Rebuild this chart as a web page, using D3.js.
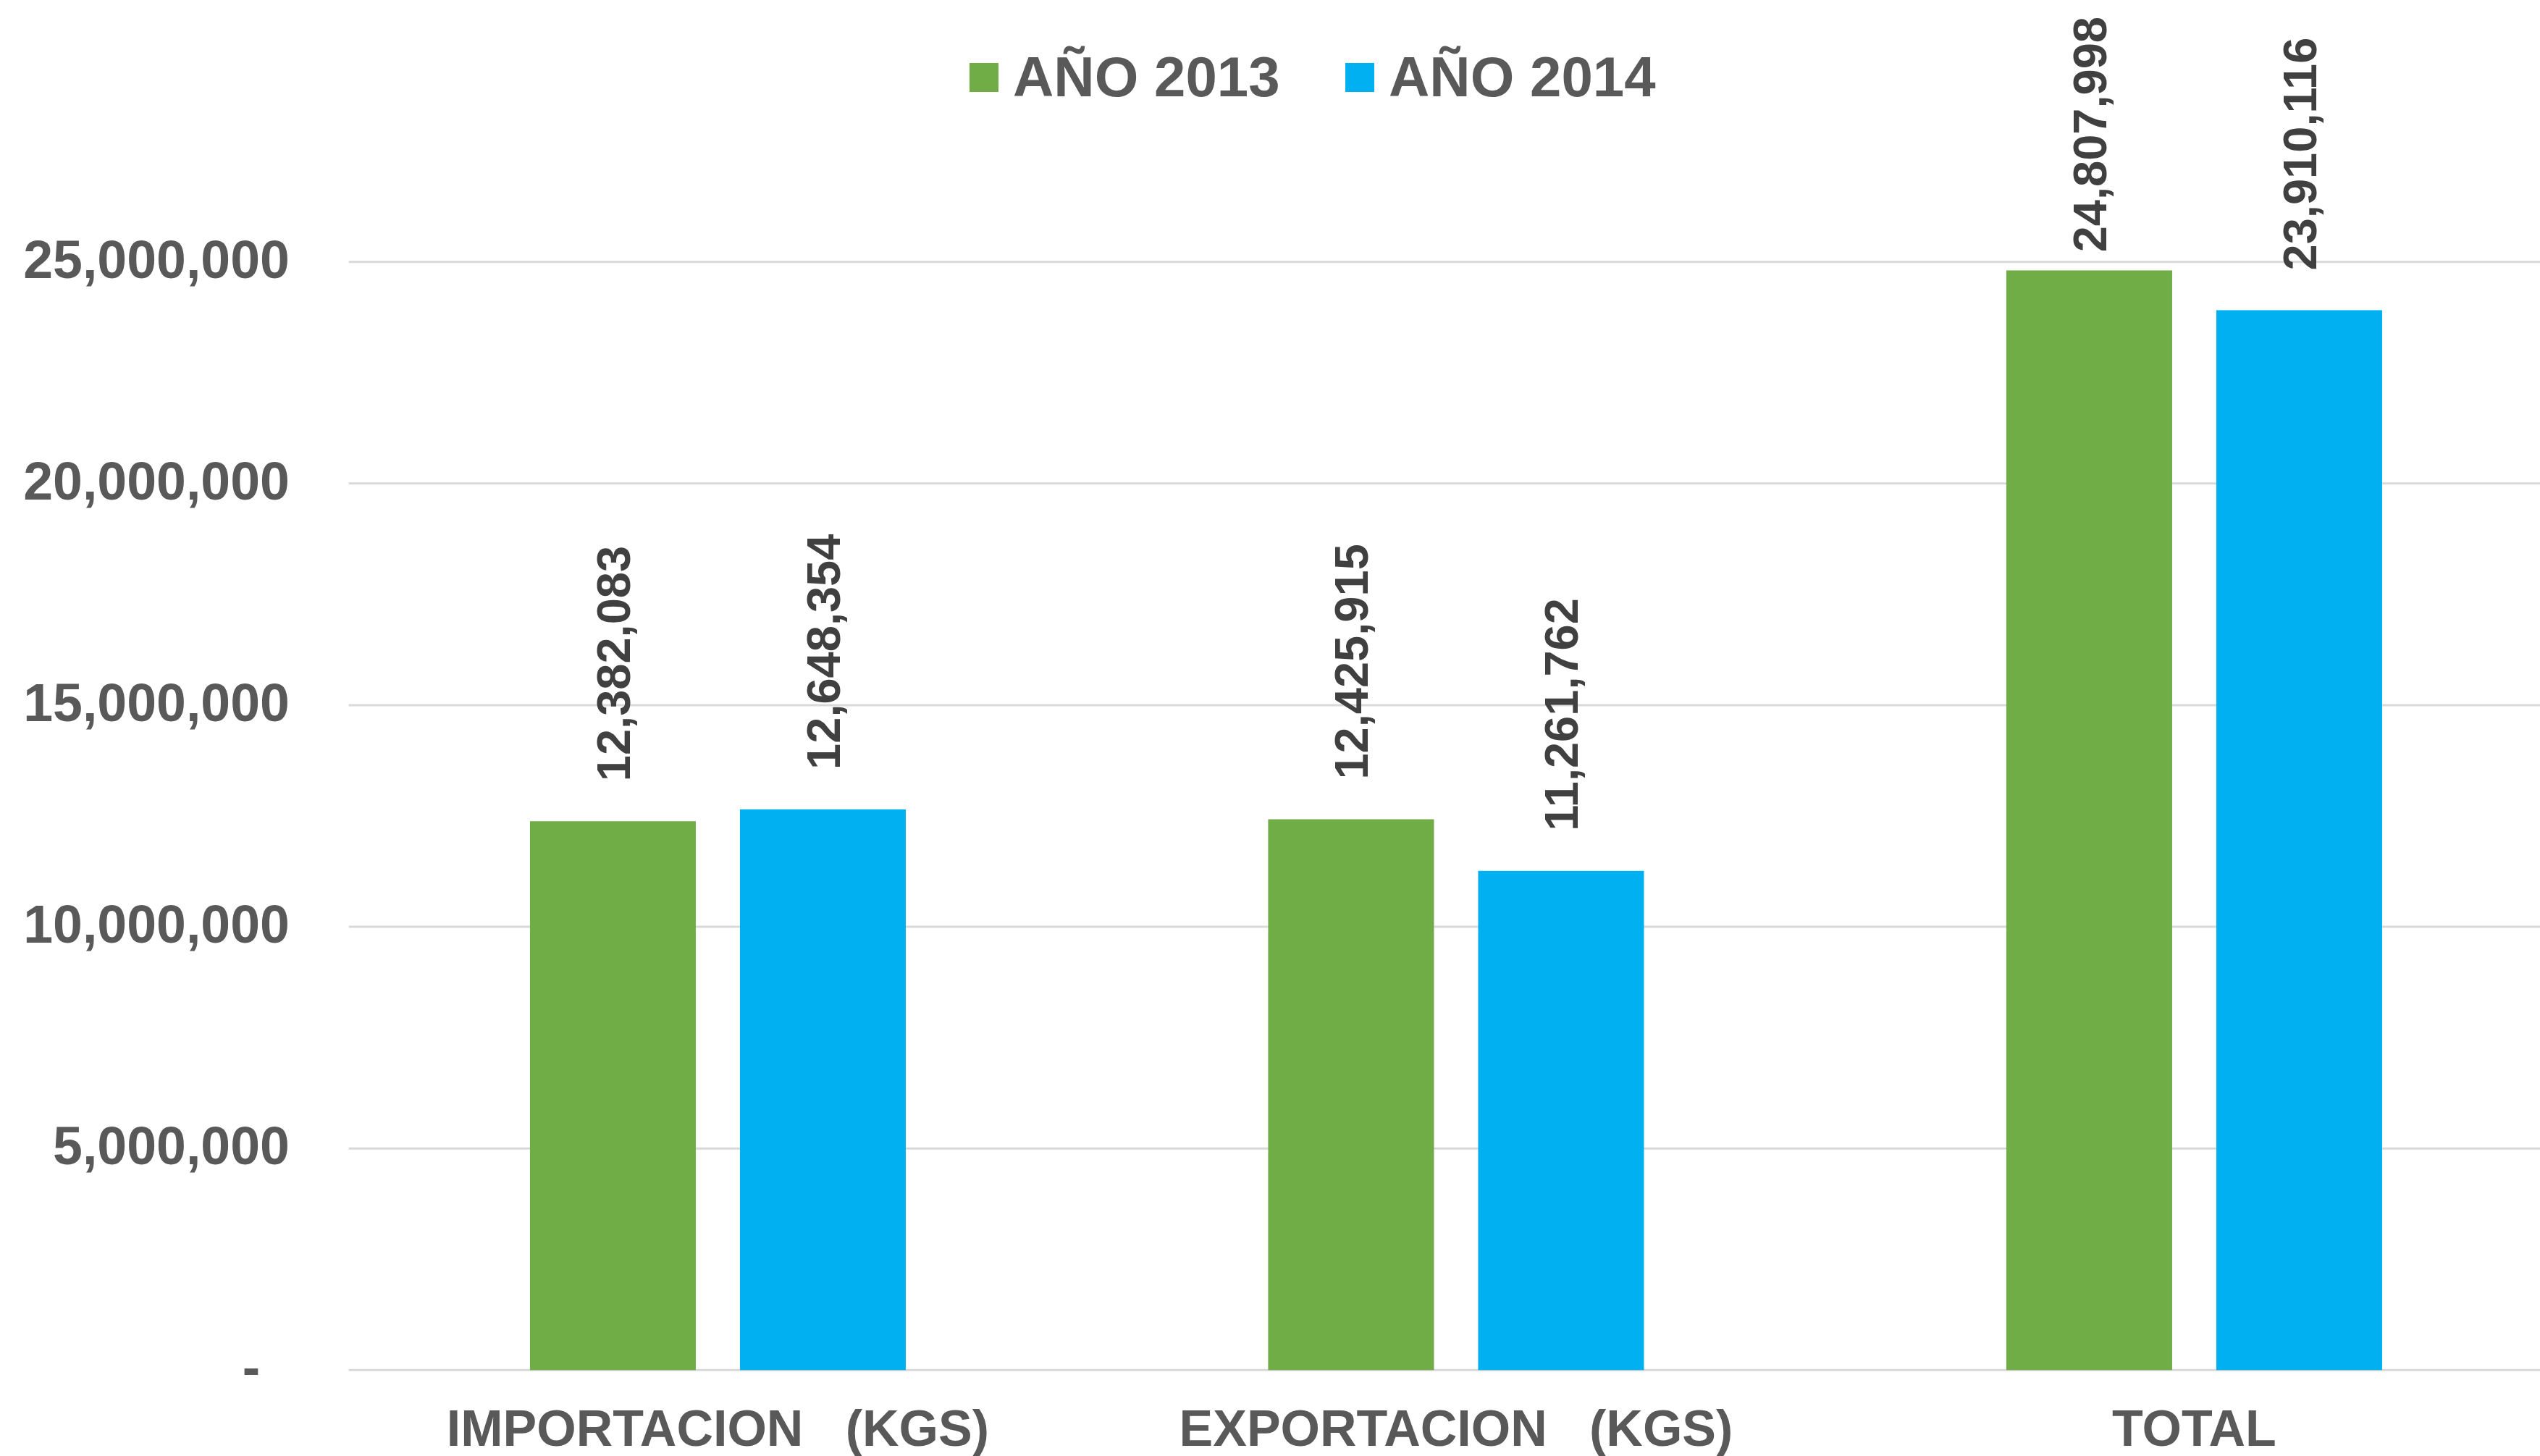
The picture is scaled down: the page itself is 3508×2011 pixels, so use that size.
<!DOCTYPE html>
<html>
<head>
<meta charset="utf-8">
<script src="https://cdn.jsdelivr.net/npm/d3@7"></script>
<style>
  html, body { margin: 0; padding: 0; background: #ffffff; }
  svg { display: block; font-family: "Liberation Sans", Arial, sans-serif; font-weight: bold; }
</style>
</head>
<body>
<svg id="chart" width="3508" height="2011"></svg>
<script>
const categories = ["IMPORTACION   (KGS)", "EXPORTACION   (KGS)", "TOTAL"];
const seriesNames = ["AÑO 2013", "AÑO 2014"];
const values2013 = [12382083, 12425915, 24807998];
const values2014 = [12648354, 11261762, 23910116];
const yTicks = [0, 5000000, 10000000, 15000000, 20000000, 25000000];
const colors = ["#70AD47", "#00B0F0"];

const W = 3508, H = 2011;
const svg = d3.select("#chart");

const plotLeft = 481.7, band = 1019.5;
const x = d3.scaleBand().domain(categories).range([plotLeft, plotLeft + band * categories.length]).padding(0);
const xSub = d3.scaleBand().domain(seriesNames).range([0, x.bandwidth()]).paddingInner(0.2103).paddingOuter(0.8629);
const y = d3.scaleLinear().domain([0, 25000000]).range([1892.3, 361.7]);

const fmt = d3.format(",");

// gridlines
svg.append("g").selectAll("line").data(yTicks).join("line")
  .attr("x1", plotLeft).attr("x2", W)
  .attr("y1", d => y(d)).attr("y2", d => y(d))
  .attr("stroke", "#D9D9D9").attr("stroke-width", 3);

// y axis
const yAxis = d3.axisLeft(y).tickValues(yTicks).tickSize(0).tickPadding(0)
  .tickFormat(d => d === 0 ? "-\u00a0\u00a0" : fmt(d));
const gy = svg.append("g").attr("transform", "translate(400,0)").call(yAxis);
gy.select(".domain").remove();
gy.selectAll("text")
  .attr("font-size", 73.5).attr("font-family", "Liberation Sans, Arial, sans-serif")
  .attr("font-weight", "bold").attr("fill", "#595959")
  .attr("dy", "0.29em").attr("x", 0)
  .style("white-space", "pre");

// x axis labels
const xAxis = d3.axisBottom(x).tickSize(0).tickPadding(0);
const gx = svg.append("g").attr("transform", "translate(0,1997)").call(xAxis);
gx.select(".domain").remove();
gx.selectAll("text")
  .attr("font-size", 70).attr("font-family", "Liberation Sans, Arial, sans-serif")
  .attr("font-weight", "bold").attr("fill", "#595959")
  .attr("y", 0).attr("dy", 0)
  .attr("xml:space", "preserve").style("white-space", "pre");

// bars
const data = [];
categories.forEach((c, i) => {
  data.push({cat: c, s: seriesNames[0], v: values2013[i], color: colors[0]});
  data.push({cat: c, s: seriesNames[1], v: values2014[i], color: colors[1]});
});

svg.append("g").selectAll("rect").data(data).join("rect")
  .attr("x", d => x(d.cat) + xSub(d.s))
  .attr("y", d => y(d.v))
  .attr("width", xSub.bandwidth())
  .attr("height", d => y(0) - y(d.v))
  .attr("fill", d => d.color);

// data labels (rotated)
const labelGap = 55, topLimit = 23;
const lg = svg.append("g");
data.forEach(d => {
  const cx = x(d.cat) + xSub(d.s) + xSub.bandwidth() / 2;
  const t = lg.append("text")
    .attr("font-size", 65).attr("font-weight", "bold").attr("fill", "#404040")
    .attr("text-anchor", "start").attr("dy", "0.358em")
    .text(fmt(d.v));
  const len = t.node().getComputedTextLength();
  let start = y(d.v) - labelGap;
  if (start - len < topLimit) start = topLimit + len;
  t.attr("transform", `translate(${cx},${start}) rotate(-90)`);
});

// legend
const legX = [1339, 1858];
const leg = svg.append("g");
seriesNames.forEach((s, i) => {
  leg.append("rect").attr("x", legX[i]).attr("y", 87).attr("width", 40).attr("height", 40).attr("fill", colors[i]);
  leg.append("text").attr("x", legX[i] + 60).attr("y", 133)
    .attr("font-size", 78).attr("font-weight", "bold").attr("fill", "#595959")
    .text(s);
});
</script>
</body>
</html>
